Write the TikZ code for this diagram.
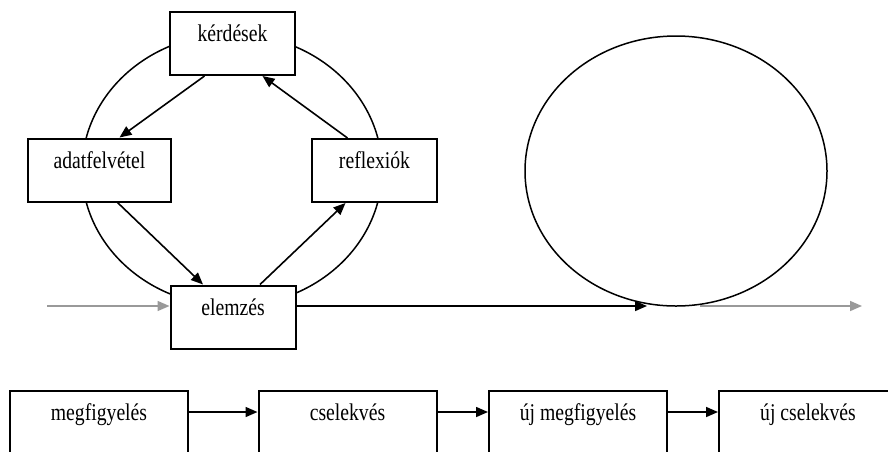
\documentclass[tikz,border=0pt]{standalone}
\usepackage{fontspec}
\setmainfont{Liberation Serif}[FakeStretch=0.82]
\usetikzlibrary{arrows.meta}
\usetikzlibrary{shapes,positioning,calc}

\tikzset{
	box/.style={draw, line width=2pt, fill=white, minimum width=125, minimum height=63, inner sep=0pt, text height=14pt, text depth=18pt, font=\fontsize{24}{28}\selectfont},
	lane/.style={box, minimum width=178, minimum height=70, text depth=26pt},
	ring/.style={draw, ellipse, line width=1.5pt, inner sep=0pt, outer sep=0pt},
	arr/.style={line width=1.6pt, -{Triangle[length=12pt,width=10pt]}},
	grayarr/.style={arr, black!40}
}

\begin{document}
\begin{tikzpicture}[x=1pt,y=-1pt]
			\path[use as bounding box, clip] (0,0) rectangle (888,451);
			\node[ring, minimum width=300, minimum height=272] (kor1) at (232,170) {};
			\node[ring, minimum width=302, minimum height=270] (kor2) at (676,171) {};
			\node[box] (kerdesek) at (232.5,43.5) {kérdések};
			\node[box, minimum width=143] (adat) at (99.5,170) {adatfelvétel};
			\node[box] (reflex) at (374.5,170.5) {reflexiók};
			\node[box] (elemzes) at (233,317) {elemzés};
			\coordinate (be) at (47,306); \coordinate (ki) at (862,306);
			\draw[arr] ([xshift=-28pt]kerdesek.south) -- ([xshift=20pt]adat.north);
			\draw[arr] ([xshift=18pt]adat.south) -- ([xshift=-30pt]elemzes.north);
			\draw[arr] ([xshift=27pt]elemzes.north) -- ([xshift=-29pt]reflex.south);
			\draw[arr] ([xshift=-27pt]reflex.north) -- ([xshift=30pt]kerdesek.south);
			\draw[grayarr] (be) -- ([yshift=11pt]elemzes.west);
			\draw[arr] ([yshift=11pt]elemzes.east) -- ([xshift=-29pt]kor2.south);
			\draw[grayarr] ([xshift=24pt]kor2.south) -- (ki);
			\node[lane] (m1) at (99,426) {megfigyelés};
			\node[lane] (m2) at (347.5,426) {cselekvés};
			\node[lane] (m3) at (578,426) {új megfigyelés};
			\node[lane] (m4) at (808,426) {új cselekvés};
			\foreach \a/\b in {m1/m2,m2/m3,m3/m4} \draw[arr] ([yshift=14pt]\a.east) -- ([yshift=14pt]\b.west);
		\end{tikzpicture}
\end{document}
